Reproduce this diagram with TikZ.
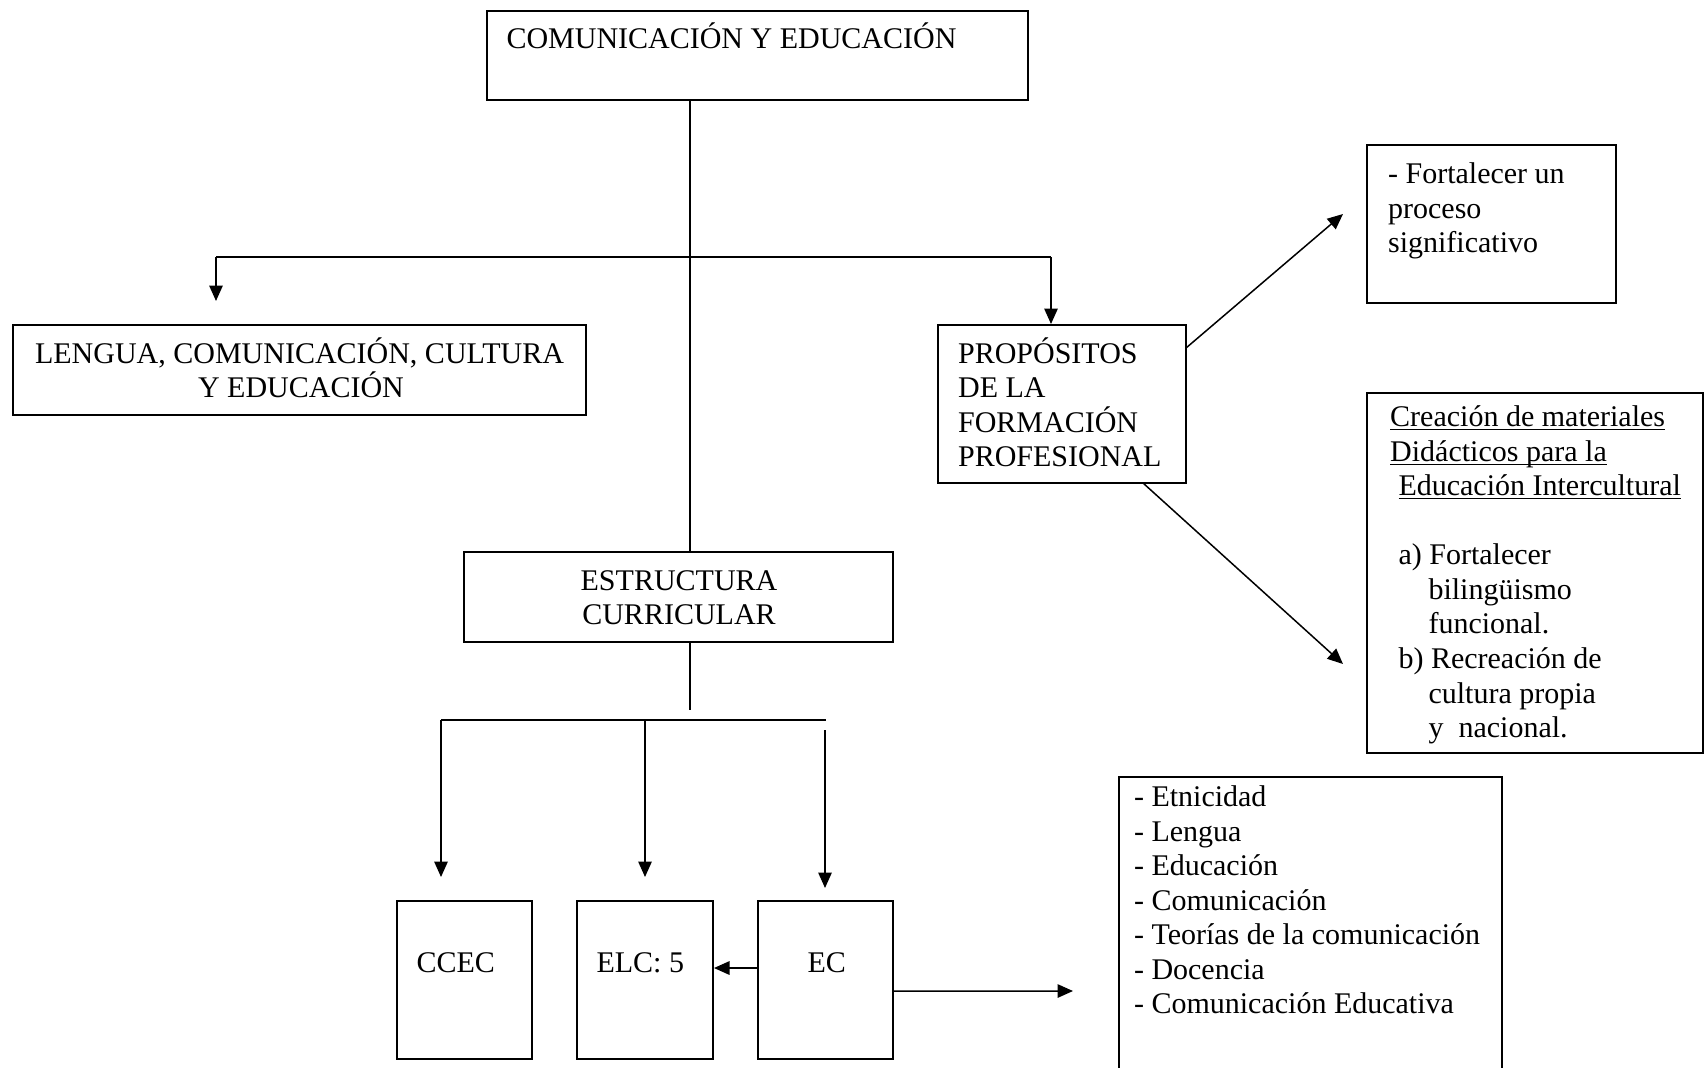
\documentclass[tikz,border=0pt]{standalone}
\usepackage{fontspec}
\setmainfont{Liberation Serif}
\usetikzlibrary{arrows.meta,fit}
\newcommand\myul[1]{\setbox0\hbox{#1}\rlap{\rule[-1.6pt]{\wd0}{0.5pt}}\box0}
\tikzset{
  box/.style={draw=black, line width=0.8pt, inner sep=0pt, fill=none},
  txt/.style={inner sep=0pt, font=\fontsize{12pt}{14pt}\selectfont},
  lin/.style={draw=black, line width=0.6pt},
  arr/.style={lin, -{Triangle[length=6.2pt,width=5.4pt]}},
}
\begin{document}
\begin{tikzpicture}[x=0.4pt,y=-0.4pt]
\useasboundingbox (0,0) rectangle (1705,1067);
\fill[white] (0,0) rectangle (1705,1067);
% boxes
\node[box, fit={(487,11)(1028,100)}] (top) {};
\node[box, fit={(13,325)(586,415)}] (len) {};
\node[box, fit={(938,325)(1186,483)}] (prop) {};
\node[box, fit={(1367,145)(1616,303)}] (fort) {};
\node[box, fit={(1367,393)(1703,753)}] (crea) {};
\node[box, fit={(464,552)(893,642)}] (est) {};
\node[box, fit={(397,901)(532,1059)}] (ccec) {};
\node[box, fit={(577,901)(713,1059)}] (elc) {};
\node[box, fit={(758,901)(893,1059)}] (ec) {};
\node[box, fit={(1119,777)(1502,1100)}] (lst) {};
% texts
\node[txt, anchor=base west] (ttop) at (506,48) {COMUNICACIÓN Y EDUCACIÓN};
\node[txt, anchor=base] (tlen1) at (299.5,363) {LENGUA, COMUNICACIÓN, CULTURA};
\node[txt, anchor=base] (tlen2) at (301,397) {Y EDUCACIÓN};
\node[txt, anchor=base west] (tp1) at (957.6,363) {PROPÓSITOS};
\node[txt, anchor=base west] (tp2) at (957.6,397.5) {DE LA};
\node[txt, anchor=base west] (tp3) at (957.6,432) {FORMACIÓN};
\node[txt, anchor=base west] (tp4) at (957.6,466.5) {PROFESIONAL};
\node[txt, anchor=base west] (tf1) at (1387.6,183) {- Fortalecer un};
\node[txt, anchor=base west] (tf2) at (1387.6,218) {proceso};
\node[txt, anchor=base west] (tf3) at (1387.6,252) {significativo};
\node[txt, anchor=base west] (tc1) at (1389.7,426) {\myul{Creación de materiales}};
\node[txt, anchor=base west] (tc2) at (1389.7,461) {\myul{Didácticos para la}};
\node[txt, anchor=base west] (tc3) at (1398,495) {\myul{Educación Intercultural}};
\node[txt, anchor=base west] (tc4) at (1398,564) {a) Fortalecer};
\node[txt, anchor=base west] (tc5) at (1428,599) {bilingüismo};
\node[txt, anchor=base west] (tc6) at (1428,633) {funcional.};
\node[txt, anchor=base west] (tc7) at (1398,668) {b) Recreación de};
\node[txt, anchor=base west] (tc8) at (1428,703) {cultura propia};
\node[txt, anchor=base west] (tc9) at (1428,737.5) {y\ \ nacional.};
\node[txt, anchor=base] (te1) at (679,590) {ESTRUCTURA};
\node[txt, anchor=base] (te2) at (679,624) {CURRICULAR};
\node[txt, anchor=base west] (tccec) at (416,972) {CCEC};
\node[txt, anchor=base west] (telc) at (596,972) {ELC: 5};
\node[txt, anchor=base west] (tec) at (807,972) {EC};
\foreach \t [count=\i from 0] in {Etnicidad,Lengua,Educación,Comunicación,Teorías de la comunicación,Docencia,Comunicación Educativa}
  \node[txt, anchor=base west] (tl\i) at (1133.5,806.5+34.5*\i) {- \t};
% connector coordinates
\coordinate (trx) at (690,0);
\coordinate (brL) at (216,257);
\coordinate (brR) at (1051,257);
\coordinate (lenTip) at (216,301);
\coordinate (pOut1) at (1186,348);
\coordinate (fTip) at (1343,214);
\coordinate (pOut2) at (1143,483);
\coordinate (cTip) at (1343,664);
\coordinate (stubEnd) at (690,710);
\coordinate (hL) at (441,720);
\coordinate (hM) at (645,720);
\coordinate (hR) at (826,720);
\coordinate (ecTop) at (825,730);
\coordinate (ecTip) at (825,888);
\coordinate (lstTip) at (1073,991);
% connectors
\draw[lin] (top.south -| trx) -- (est.north -| trx);
\draw[lin] (brL) -- (brR);
\draw[arr] (brL) -- (lenTip);
\draw[arr] (brR) -- (prop.north -| brR);
\draw[arr] (pOut1) -- (fTip);
\draw[arr] (pOut2) -- (cTip);
\draw[lin] (est.south -| trx) -- (stubEnd);
\draw[lin] (hL) -- (hR);
\draw[arr] (hL) -- (hL |- 0,877);
\draw[arr] (hM) -- (hM |- 0,877);
\draw[arr] (ecTop) -- (ecTip);
\draw[arr] ([yshift=4.8pt]ec.west) -- ([yshift=4.8pt]elc.east);
\draw[arr] ([yshift=-4.4pt]ec.east) -- (lstTip);
\end{tikzpicture}
\end{document}
